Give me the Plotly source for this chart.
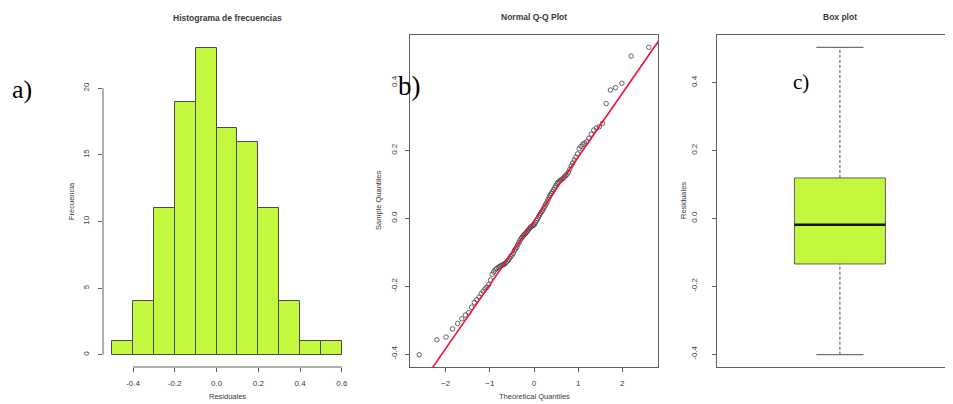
import numpy as np
import plotly.graph_objects as go
from statistics import NormalDist

residuals = [
    -0.402, -0.358, -0.350, -0.326, -0.310,
    -0.296, -0.285, -0.278, -0.262, -0.248, -0.240, -0.232, -0.222, -0.215, -0.208, -0.203,
    -0.195, -0.182, -0.165, -0.158, -0.152, -0.148, -0.145, -0.142, -0.140, -0.138,
    -0.136, -0.134, -0.130, -0.126, -0.122, -0.117, -0.112, -0.108, -0.103,
    -0.095, -0.090, -0.085, -0.078, -0.072, -0.066, -0.060, -0.056, -0.052, -0.048,
    -0.045, -0.042, -0.038, -0.034, -0.030, -0.027, -0.024, -0.022, -0.020, -0.018,
    -0.012, -0.006, -0.002,
    0.004, 0.010, 0.015, 0.020, 0.024, 0.030, 0.036, 0.042, 0.048, 0.055,
    0.062, 0.068, 0.073, 0.078, 0.084, 0.090, 0.096,
    0.103, 0.106, 0.109, 0.112, 0.115, 0.118, 0.122, 0.126, 0.130, 0.136,
    0.145, 0.155, 0.163, 0.172, 0.180, 0.190,
    0.205, 0.212, 0.218, 0.222, 0.226, 0.236, 0.248, 0.260, 0.266, 0.270, 0.280,
    0.338, 0.378, 0.385, 0.398,
    0.478,
    0.504,
]

hist_bin_start = -0.5
hist_bin_end = 0.6
hist_bin_size = 0.1
hist_x_ticks = [-0.4, -0.2, 0.0, 0.2, 0.4, 0.6]
hist_x_labels = ["-0.4", "-0.2", "0.0", "0.2", "0.4", "0.6"]
hist_y_ticks = [0, 5, 10, 15, 20]
hist_y_max = 23

qq_x_ticks = [-2, -1, 0, 1, 2]
res_y_ticks = [-0.4, -0.2, 0.0, 0.2, 0.4]
res_y_labels = ["-0.4", "-0.2", "0.0", "0.2", "0.4"]

title_a = "Histograma de frecuencias"
title_b = "Normal Q-Q Plot"
title_c = "Box plot"
xlab_a = "Residuales"
ylab_a = "Frecuencia"
xlab_b = "Theoretical Quantiles"
ylab_b = "Sample Quantiles"
ylab_c = "Residuales"

# ---------------- derived statistics ----------------
nd = NormalDist()
n = len(residuals)
sample_q = sorted(residuals)
theo_q = [nd.inv_cdf((i + 0.5) / n) for i in range(n)]
q1, med, q3 = np.quantile(residuals, [0.25, 0.5, 0.75])
xq1, xq3 = nd.inv_cdf(0.25), nd.inv_cdf(0.75)
slope = (q3 - q1) / (xq3 - xq1)
intercept = q1 - slope * xq1
rmin, rmax = min(residuals), max(residuals)


def pad(lo, hi, f=0.04):
    s = hi - lo
    return [lo - f * s, hi + f * s]


hist_xr = pad(hist_bin_start, hist_bin_end)
hist_yr = pad(0, hist_y_max)
qq_xr = pad(min(theo_q), max(theo_q))
res_yr = pad(rmin, rmax)

# ---------------- style / page geometry ----------------
OFF = 8                      # page body margin of the html page
W, H = 953 - OFF, 404 - OFF  # figure size so that it fills the window
BAR = "#C3F83E"
EDGE = "#4a4a4a"
TXT = "#3a3a3a"
LINE = "#606060"
FONT = "Liberation Sans, Arial, sans-serif"
SERIF = "Liberation Serif, Times New Roman, serif"


def fx(p):
    return (p - OFF) / W


def fy(p):
    return 1 - (p - OFF) / H


tickfont = dict(family=FONT, size=8, color=TXT)

fig = go.Figure()

# a) histogram
fig.add_trace(go.Histogram(
    x=residuals, xbins=dict(start=hist_bin_start, end=hist_bin_end, size=hist_bin_size),
    marker=dict(color=BAR, line=dict(color=EDGE, width=1)),
    xaxis="x", yaxis="y", hoverinfo="skip"))

# b) Q-Q plot
fig.add_trace(go.Scatter(
    x=theo_q, y=sample_q, mode="markers",
    marker=dict(symbol="circle-open", size=4.5, color="#404040", line=dict(width=0.8)),
    xaxis="x2", yaxis="y2"))
fig.add_trace(go.Scatter(
    x=[qq_xr[0] - 1, qq_xr[1] + 1],
    y=[intercept + slope * (qq_xr[0] - 1), intercept + slope * (qq_xr[1] + 1)],
    mode="lines", line=dict(color="#F0143C", width=1.6),
    xaxis="x2", yaxis="y2"))

# c) box plot
box_w = 0.185
cap_w = 0.048
fig.add_trace(go.Box(
    x=[0], q1=[q1], median=[med], q3=[q3], lowerfence=[q1], upperfence=[q3],
    width=box_w, whiskerwidth=0, boxpoints=False,
    fillcolor=BAR, line=dict(color=LINE, width=1),
    xaxis="x3", yaxis="y3"))
fig.add_trace(go.Scatter(
    x=[0, 0, None, 0, 0], y=[rmin, q1, None, q3, rmax], mode="lines",
    line=dict(color="#505050", width=1, dash="3px,2px"), xaxis="x3", yaxis="y3"))
fig.add_trace(go.Scatter(
    x=[-cap_w, cap_w, None, -cap_w, cap_w], y=[rmin, rmin, None, rmax, rmax], mode="lines",
    line=dict(color="#505050", width=1), xaxis="x3", yaxis="y3"))
fig.add_trace(go.Scatter(
    x=[-box_w / 2, box_w / 2], y=[med, med], mode="lines",
    line=dict(color="#151515", width=2.6), xaxis="x3", yaxis="y3"))

common_ax = dict(showgrid=False, zeroline=False, ticks="outside", ticklen=4,
                 tickcolor=LINE, tickwidth=1, tickfont=tickfont, fixedrange=True)

fig.update_layout(
    width=W, height=H, margin=dict(l=0, r=0, t=0, b=0),
    paper_bgcolor="white", plot_bgcolor="white", showlegend=False,
    xaxis=dict(domain=[fx(103), fx(351)], anchor="y", range=hist_xr,
               tickvals=hist_x_ticks, ticktext=hist_x_labels, showline=False,
               ticklabelstandoff=4, **common_ax),
    yaxis=dict(domain=[fy(367), fy(36)], anchor="x", range=hist_yr,
               tickvals=hist_y_ticks, tickangle=-90, showline=False,
               ticklabelstandoff=6, **common_ax),
    xaxis2=dict(domain=[fx(410), fx(658)], anchor="y2", range=qq_xr,
                tickvals=qq_x_ticks, showline=True, mirror=True, linecolor=LINE,
                linewidth=1, ticklabelstandoff=4, **common_ax),
    yaxis2=dict(domain=[fy(367), fy(35)], anchor="x2", range=res_yr,
                tickvals=res_y_ticks, ticktext=res_y_labels, tickangle=-90,
                showline=True, mirror=True, linecolor=LINE, linewidth=1,
                ticklabelstandoff=5, **common_ax),
    xaxis3=dict(domain=[fx(717), 1.0], anchor="y3", range=[-0.25, 0.23],
                showticklabels=False, showline=True, mirror=True, linecolor=LINE,
                linewidth=1, showgrid=False, zeroline=False, fixedrange=True),
    yaxis3=dict(domain=[fy(367), fy(35)], anchor="x3", range=res_yr,
                tickvals=res_y_ticks, ticktext=res_y_labels, tickangle=-90,
                showline=True, mirror=False, linecolor=LINE, linewidth=1,
                ticklabelstandoff=12, **common_ax),
)

# histogram axis lines span only the tick range (R style)
fig.add_shape(type="line", xref="x", yref="y domain",
              x0=min(hist_x_ticks), x1=max(hist_x_ticks), y0=0, y1=0,
              line=dict(color=LINE, width=1))
fig.add_shape(type="line", xref="x domain", yref="y",
              x0=0, x1=0, y0=min(hist_y_ticks), y1=max(hist_y_ticks),
              line=dict(color=LINE, width=1))

ann = []


def text(x, y, s, size=8, bold=False, angle=0, family=FONT, color=TXT):
    ann.append(dict(xref="paper", yref="paper", x=fx(x), y=fy(y), text=f"<b>{s}</b>" if bold else s,
                    showarrow=False, xanchor="center", yanchor="middle", textangle=angle,
                    font=dict(family=family, size=size, color=color)))


text(227, 18, title_a, size=8.5, bold=True)
text(534, 17, title_b, size=8.5, bold=True)
text(840, 17, title_c, size=8.5, bold=True)
text(227, 396, xlab_a, size=7.5)
text(534, 396, xlab_b, size=7.5)
text(71, 201, ylab_a, size=7.5, angle=-90)
text(378, 201, ylab_b, size=7.5, angle=-90)
text(683, 201, ylab_c, size=7.5, angle=-90)
text(22, 89, "a)", size=26, family=SERIF, color="black")
text(409, 86, "b)", size=27, family=SERIF, color="black")
text(801, 82, "c)", size=21, family=SERIF, color="black")
fig.update_layout(annotations=ann)

fig.write_html("out.html")
